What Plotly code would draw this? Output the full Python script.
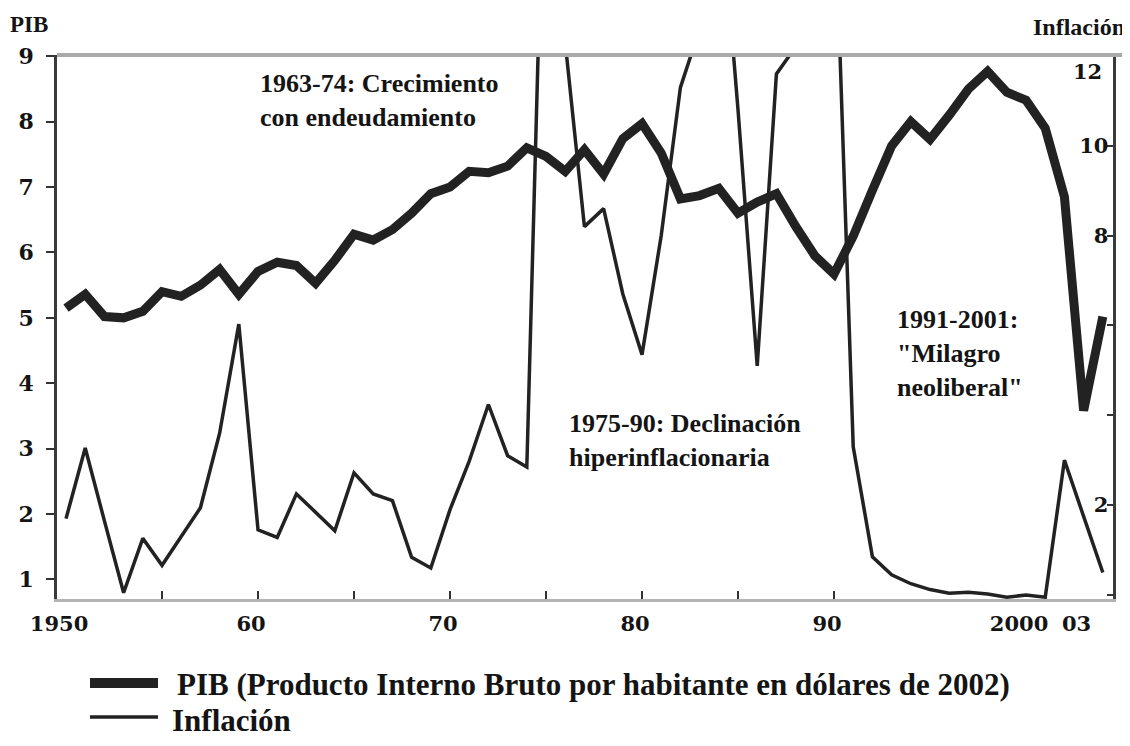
import plotly.graph_objects as go

# ---------------- data ----------------
years = list(range(1950, 2005))

pib = [5.15, 5.36, 5.02, 5.00, 5.10, 5.40, 5.33, 5.50, 5.74, 5.36,
       5.71, 5.85, 5.80, 5.53, 5.88, 6.28, 6.19, 6.35, 6.60, 6.90,
       7.00, 7.24, 7.22, 7.32, 7.60, 7.47, 7.24, 7.57, 7.20, 7.74,
       7.97, 7.52, 6.82, 6.87, 6.98, 6.60, 6.77, 6.90, 6.40, 5.95,
       5.67, 6.25, 6.95, 7.63, 8.00, 7.73, 8.10, 8.50, 8.77, 8.45,
       8.33, 7.90, 6.85, 3.58, 5.02]

inflacion = [1.70, 3.27, 1.65, 0.05, 1.26, 0.66, 1.30, 1.94, 3.60, 6.03,
             1.45, 1.28, 2.25, 1.85, 1.43, 2.72, 2.25, 2.10, 0.84, 0.60,
             1.90, 2.98, 4.24, 3.10, 2.85, 18.5, 12.3, 8.20, 8.60, 6.70,
             5.35, 8.00, 11.3, 12.6, 16.0, 10.8, 5.10, 11.6, 12.2, 40.0,
             16.0, 3.30, 0.85, 0.45, 0.25, 0.12, 0.04, 0.06, 0.02, -0.05,
             0.00, -0.05, 3.00, 1.75, 0.50]

x_tickvals = [1950, 1960, 1970, 1980, 1990, 2000, 2003]
x_ticktext = ["1950", "60", "70", "80", "90", "2000", "03"]
x_minor_ticks = [1955, 1960, 1965, 1970, 1975, 1980, 1985, 1990]

pib_ticks = [1, 2, 3, 4, 5, 6, 7, 8, 9]
inf_tickvals = [0, 2, 4, 6, 8, 10, 12]
inf_ticktext = ["", "2", "", "", "8", "10", ""]
inf_top_label = 12

legend_pib = "PIB (Producto Interno Bruto por habitante en dólares de 2002)"
legend_inf = "Inflación"

INK = "#222222"
TXT = "#141414"
SERIF = "Liberation Serif"
TICKFONT = dict(family="DejaVu Serif", size=21, color=TXT, weight="bold")

fig = go.Figure()
fig.add_trace(go.Scatter(x=years, y=pib, mode="lines", name=legend_pib,
                         line=dict(color=INK, width=9), yaxis="y",
                         showlegend=False))
fig.add_trace(go.Scatter(x=years, y=inflacion, mode="lines", name=legend_inf,
                         line=dict(color=INK, width=3.5), yaxis="y2",
                         showlegend=False))

# plot area in screenshot pixels: x 57..1113, y 55..599
# (the page adds an 8 px body margin, so the figure is 8 px smaller and shifted)
def px(x):
    return (x - 57) / 1056.0

def py(y):
    return (599 - y) / 544.0

annotations = [
    dict(text="1963-74: Crecimiento<br>con endeudamiento", x=px(258), y=py(100),
         xanchor="left", yanchor="middle", align="left"),
    dict(text="1975-90: Declinación<br>hiperinflacionaria", x=px(567), y=py(441),
         xanchor="left", yanchor="middle", align="left"),
    dict(text="1991-2001:<br>\"Milagro<br>neoliberal\"", x=px(895), y=py(353),
         xanchor="left", yanchor="middle", align="left"),
]
for a in annotations:
    a.update(xref="paper", yref="paper", showarrow=False,
             font=dict(family=SERIF, size=26, color=TXT, weight="bold"))

annotations += [
    dict(text="PIB", x=px(29), y=py(24), xref="paper", yref="paper",
         xanchor="center", yanchor="middle", showarrow=False,
         font=dict(family=SERIF, size=23, color=TXT, weight="bold")),
    dict(text="Inflación", x=px(1127), y=py(27), xref="paper", yref="paper",
         xanchor="right", yanchor="middle", showarrow=False,
         font=dict(family=SERIF, size=24, color=TXT, weight="bold")),
    # top label of the right axis, drawn a little below the frame as in the original
    dict(text=str(inf_top_label), x=px(1104), y=inf_top_label, xref="paper", yref="y2",
         xanchor="right", yanchor="middle", yshift=-16, showarrow=False,
         font=TICKFONT),
    dict(text=legend_pib, x=px(175), y=py(684), xref="paper", yref="paper",
         xanchor="left", yanchor="middle", showarrow=False,
         font=dict(family=SERIF, size=31, color=TXT, weight="bold")),
    dict(text=legend_inf, x=px(170), y=py(720), xref="paper", yref="paper",
         xanchor="left", yanchor="middle", showarrow=False,
         font=dict(family=SERIF, size=31, color=TXT, weight="bold")),
]

shapes = [
    # grey top frame line
    dict(type="line", xref="paper", yref="paper", x0=0, x1=px(1127), y0=1, y1=1,
         line=dict(color="#a9a9a9", width=4)),
    # legend samples
    dict(type="line", xref="paper", yref="paper", x0=px(90), x1=px(158),
         y0=py(683), y1=py(683), line=dict(color=INK, width=10)),
    dict(type="line", xref="paper", yref="paper", x0=px(90), x1=px(158),
         y0=py(717), y1=py(717), line=dict(color=INK, width=3.5)),
]

fig.update_layout(
    width=1122, height=738,
    margin=dict(l=49, r=17, t=47, b=147),
    paper_bgcolor="white", plot_bgcolor="white",
    showlegend=False,
    xaxis=dict(range=[1949.53, 2004.53], tickmode="array",
               tickvals=x_tickvals, ticktext=x_ticktext, ticks="",
               minor=dict(tickmode="array", tickvals=x_minor_ticks, ticks="inside",
                          ticklen=8, tickwidth=2, tickcolor="#333333"),
               showline=True, linecolor="#b3b3b3", linewidth=3,
               showgrid=False, zeroline=False, tickfont=TICKFONT,
               ticklabelstandoff=4, ticklabelshift=-7),
    yaxis=dict(range=[0.7, 9.02], tickmode="array", tickvals=pib_ticks,
               ticks="outside", ticklen=8, tickwidth=2, tickcolor="#333333",
               showline=True, linecolor="#3a3a3a", linewidth=2.5,
               showgrid=False, zeroline=False,
               tickfont=dict(family="DejaVu Serif", size=22, color=TXT, weight="bold"),
               ticklabelstandoff=8),
    yaxis2=dict(range=[-0.09, 12.02], overlaying="y", side="right",
                tickmode="array", tickvals=inf_tickvals, ticktext=inf_ticktext,
                ticks="inside", ticklen=6, tickwidth=2, tickcolor="#333333",
                ticklabelposition="inside", ticklabeloverflow="allow",
                showline=True, linecolor="#3a3a3a", linewidth=2.5,
                showgrid=False, zeroline=False, tickfont=TICKFONT),
    annotations=annotations,
    shapes=shapes,
)

fig.write_html("out.html")
